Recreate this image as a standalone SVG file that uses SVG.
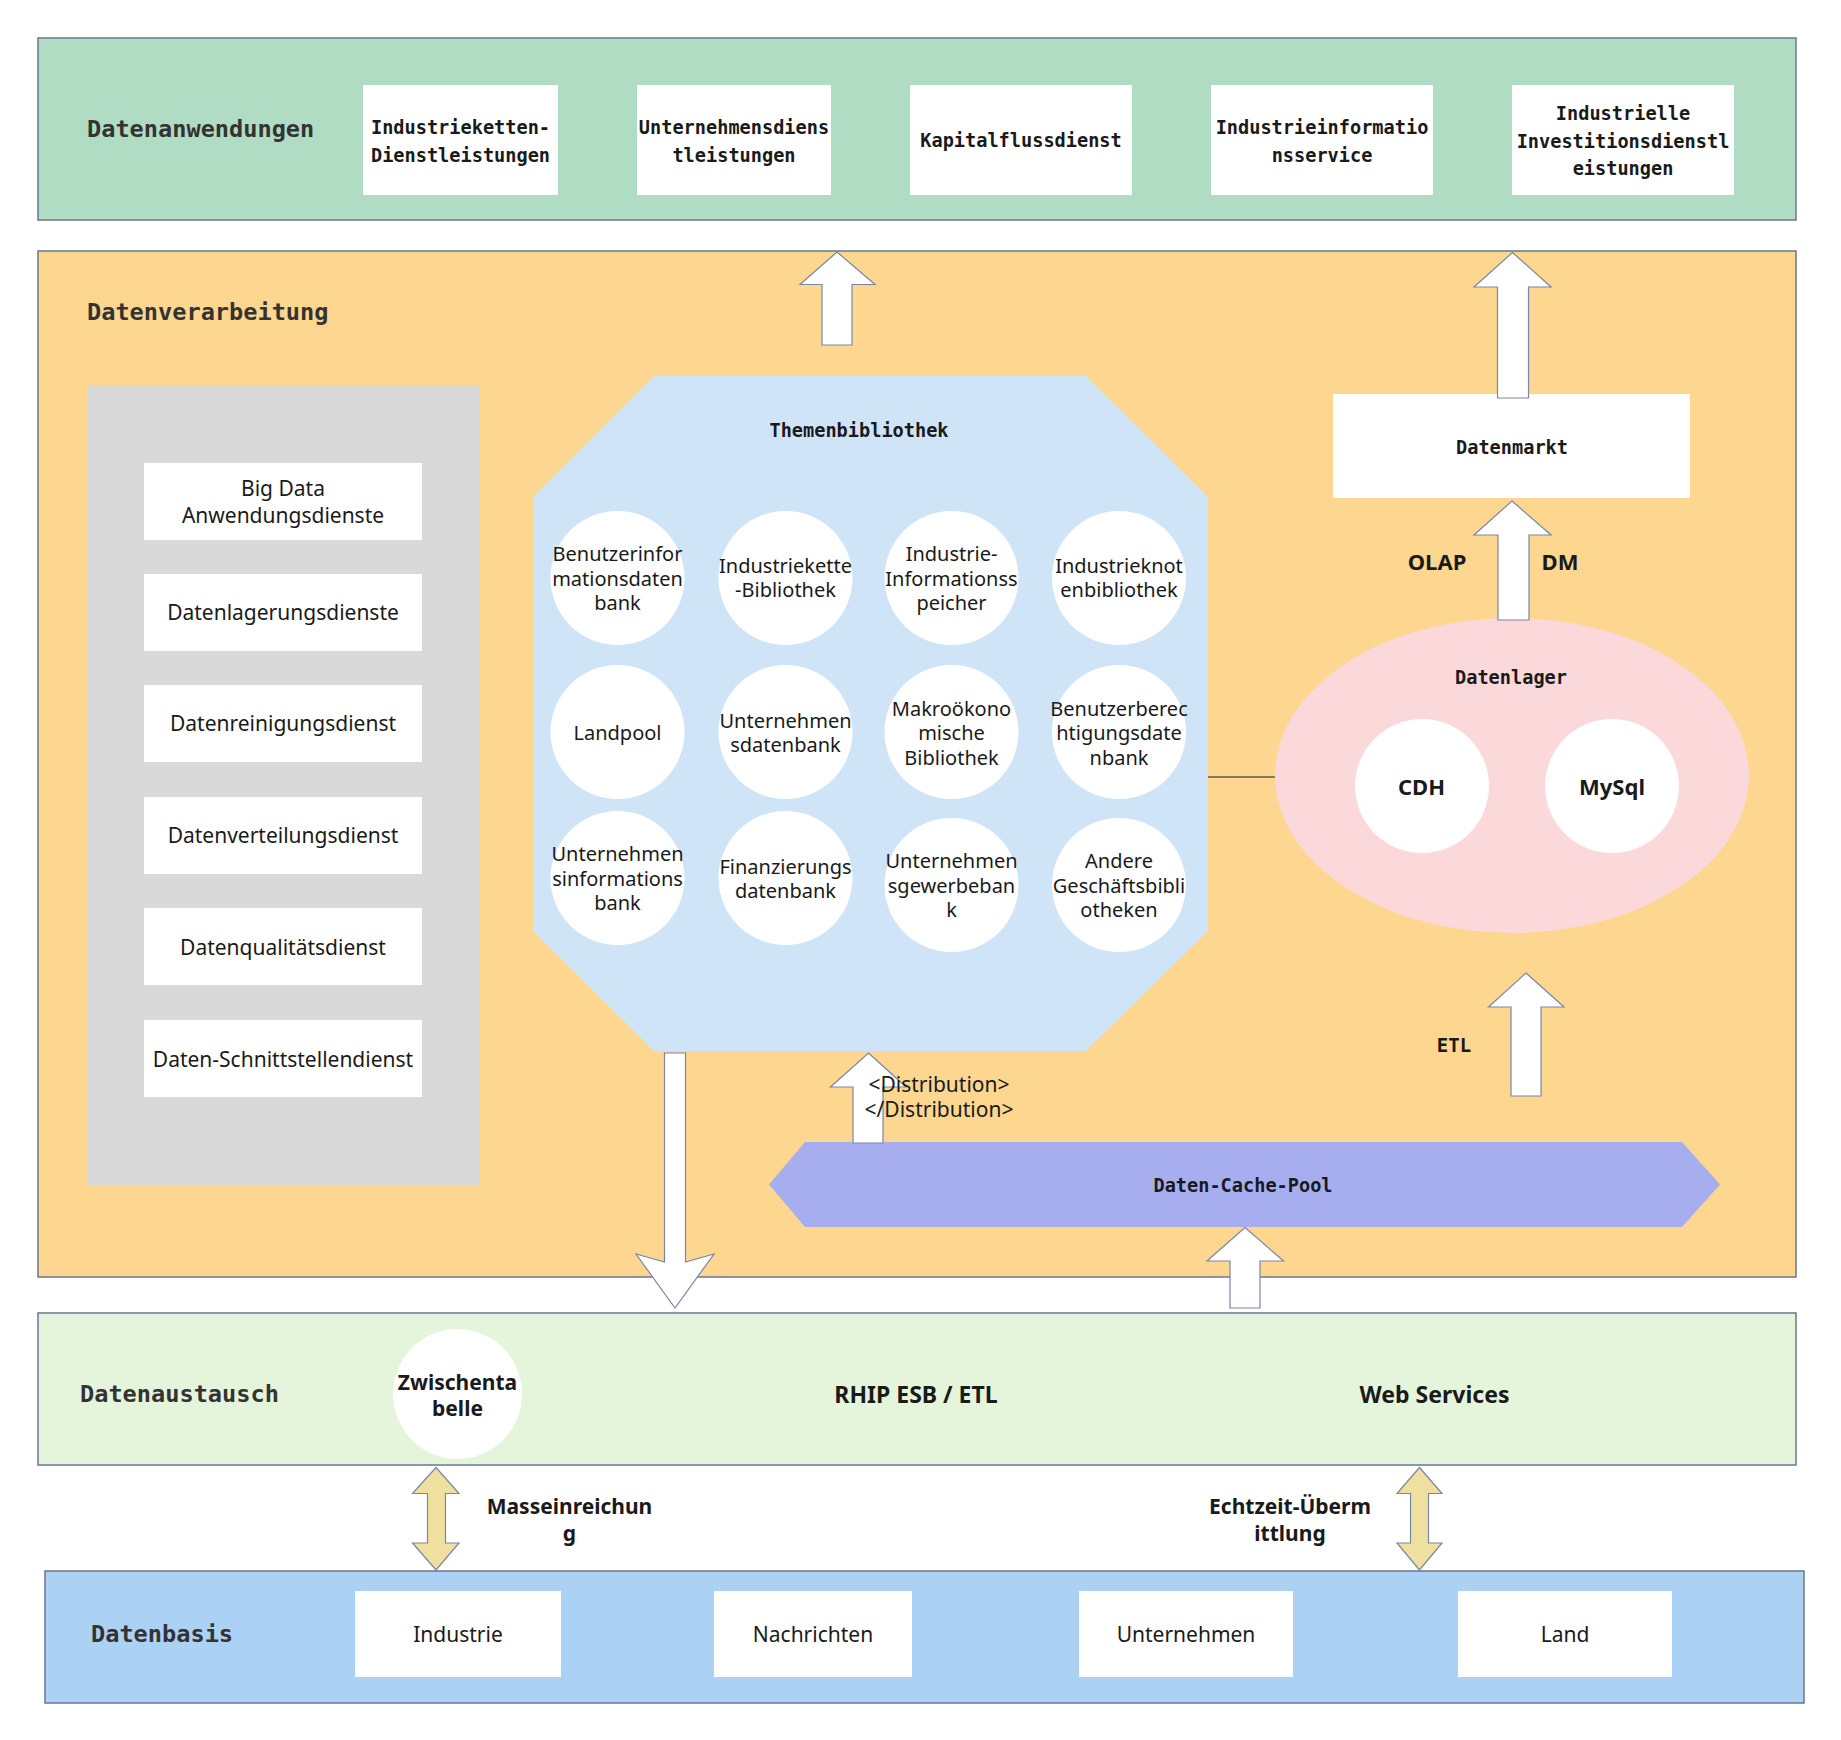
<svg xmlns="http://www.w3.org/2000/svg" width="1841" height="1740" viewBox="0 0 1841 1740">
<style>
.band{stroke:#6b7690;stroke-width:1.5}
.wbox{fill:#ffffff}
.circ{fill:#ffffff}
.arrow{fill:#ffffff;stroke:#7c86a3;stroke-width:1.2;stroke-linejoin:miter}
.darrow{fill:#efe0a0;stroke:#7c86a3;stroke-width:1.2}
.head{font-family:"DejaVu Sans Mono","Liberation Mono",monospace;font-weight:bold;font-size:23.6px;fill:#333333}
.mono{font-family:"DejaVu Sans Mono","Liberation Mono",monospace;font-weight:bold;font-size:18.6px;fill:#1a1a1a;text-anchor:middle;dominant-baseline:central}
.reg{font-family:"Noto Sans","Liberation Sans",sans-serif;font-size:21px;fill:#1a1a1a;text-anchor:middle;dominant-baseline:central}
.cir{font-family:"Noto Sans","Liberation Sans",sans-serif;font-size:20px;fill:#1a1a1a;text-anchor:middle;dominant-baseline:central}
.bold{font-family:"Noto Sans","Liberation Sans",sans-serif;font-weight:bold;font-size:21px;fill:#1a1a1a;text-anchor:middle;dominant-baseline:central}
</style>

<!-- Layer: Datenanwendungen -->
<g id="datenanwendungen">
<rect class="band" x="38" y="38" width="1758" height="182" fill="#b0dcc3"/>
<text class="head" x="87" y="137">Datenanwendungen</text>
</g>
<g id="app1"><rect class="wbox" x="363" y="85" width="195" height="110"/>
<text class="mono" x="460.5" y="127">Industrieketten-</text><text class="mono" x="460.5" y="155">Dienstleistungen</text></g>
<g id="app2"><rect class="wbox" x="637" y="85" width="194" height="110"/>
<text class="mono" x="734" y="127">Unternehmensdiens</text><text class="mono" x="734" y="155">tleistungen</text></g>
<g id="app3"><rect class="wbox" x="910" y="85" width="222" height="110"/>
<text class="mono" x="1021" y="140">Kapitalflussdienst</text></g>
<g id="app4"><rect class="wbox" x="1211" y="85" width="222" height="110"/>
<text class="mono" x="1322" y="127">Industrieinformatio</text><text class="mono" x="1322" y="155">nsservice</text></g>
<g id="app5"><rect class="wbox" x="1512" y="85" width="222" height="110"/>
<text class="mono" x="1623" y="113">Industrielle</text><text class="mono" x="1623" y="141">Investitionsdienstl</text><text class="mono" x="1623" y="168">eistungen</text></g>

<!-- Layer: Datenverarbeitung -->
<g id="datenverarbeitung">
<rect class="band" x="38" y="251" width="1758" height="1026" fill="#fdd690"/>
<text class="head" x="87" y="320">Datenverarbeitung</text>
</g>

<g id="dienste">
<rect x="88" y="385" width="392" height="801" fill="#d9d9d9"/>
<rect class="wbox" x="144" y="463" width="278" height="77"/>
<text class="reg" x="283" y="488">Big Data</text><text class="reg" x="283" y="515">Anwendungsdienste</text>
<rect class="wbox" x="144" y="574" width="278" height="77"/>
<text class="reg" x="283" y="612">Datenlagerungsdienste</text>
<rect class="wbox" x="144" y="685" width="278" height="77"/>
<text class="reg" x="283" y="723">Datenreinigungsdienst</text>
<rect class="wbox" x="144" y="797" width="278" height="77"/>
<text class="reg" x="283" y="835">Datenverteilungsdienst</text>
<rect class="wbox" x="144" y="908" width="278" height="77"/>
<text class="reg" x="283" y="947">Datenqualitätsdienst</text>
<rect class="wbox" x="144" y="1020" width="278" height="77"/>
<text class="reg" x="283" y="1059">Daten-Schnittstellendienst</text>
</g>

<g id="themenbibliothek">
<polygon points="654,376 1086,376 1208,497 1208,931 1086,1051 654,1051 533,931 533,497" fill="#d0e4f8"/>
<text class="mono" x="859" y="430">Themenbibliothek</text>
</g>
<g id="lib-r1">
<circle class="circ" cx="617.5" cy="578" r="67"/>
<text class="cir" x="617.5" y="553.5">Benutzerinfor</text><text class="cir" x="617.5" y="578">mationsdaten</text><text class="cir" x="617.5" y="602.5">bank</text>
<circle class="circ" cx="785.5" cy="578" r="67"/>
<text class="cir" x="785.5" y="565">Industriekette</text><text class="cir" x="785.5" y="589.5">-Bibliothek</text>
<circle class="circ" cx="951.5" cy="578" r="67"/>
<text class="cir" x="951.5" y="553.5">Industrie-</text><text class="cir" x="951.5" y="578">Informationss</text><text class="cir" x="951.5" y="602.5">peicher</text>
<circle class="circ" cx="1119" cy="578" r="67"/>
<text class="cir" x="1119" y="565">Industrieknot</text><text class="cir" x="1119" y="589.5">enbibliothek</text>
</g>
<g id="lib-r2">
<circle class="circ" cx="617.5" cy="732" r="67"/>
<text class="cir" x="617.5" y="732.5">Landpool</text>
<circle class="circ" cx="785.5" cy="732" r="67"/>
<text class="cir" x="785.5" y="720">Unternehmen</text><text class="cir" x="785.5" y="744.5">sdatenbank</text>
<circle class="circ" cx="951.5" cy="732" r="67"/>
<text class="cir" x="951.5" y="708">Makroökono</text><text class="cir" x="951.5" y="732.5">mische</text><text class="cir" x="951.5" y="757">Bibliothek</text>
<circle class="circ" cx="1119" cy="732" r="67"/>
<text class="cir" x="1119" y="708">Benutzerberec</text><text class="cir" x="1119" y="732.5">htigungsdate</text><text class="cir" x="1119" y="757">nbank</text>
</g>
<g id="lib-r3">
<circle class="circ" cx="617.5" cy="878" r="67"/>
<text class="cir" x="617.5" y="853.5">Unternehmen</text><text class="cir" x="617.5" y="878">sinformations</text><text class="cir" x="617.5" y="902.5">bank</text>
<circle class="circ" cx="785.5" cy="878" r="67"/>
<text class="cir" x="785.5" y="866">Finanzierungs</text><text class="cir" x="785.5" y="890.5">datenbank</text>
<circle class="circ" cx="951.5" cy="885" r="67"/>
<text class="cir" x="951.5" y="860.5">Unternehmen</text><text class="cir" x="951.5" y="885">sgewerbeban</text><text class="cir" x="951.5" y="909.5">k</text>
<circle class="circ" cx="1119" cy="885" r="67"/>
<text class="cir" x="1119" y="860.5">Andere</text><text class="cir" x="1119" y="885">Geschäftsbibli</text><text class="cir" x="1119" y="909.5">otheken</text>
</g>

<g id="datenmarkt">
<rect class="wbox" x="1333" y="394" width="357" height="104"/>
<text class="mono" x="1512" y="447">Datenmarkt</text>
</g>

<g id="datenlager">
<ellipse cx="1512" cy="775.5" rx="237" ry="157.5" fill="#fbd8da"/>
<text class="mono" x="1511" y="677">Datenlager</text>
<circle class="circ" cx="1422" cy="786" r="67"/>
<text class="bold" x="1421.5" y="786" style="font-size:22px">CDH</text>
<circle class="circ" cx="1612" cy="786" r="67"/>
<text class="bold" x="1612" y="786" style="font-size:22px">MySql</text>
</g>

<g id="cachepool">
<polygon points="805,1142 1682,1142 1720,1184.5 1682,1227 805,1227 769,1184.5" fill="#a6aef0"/>
<text class="mono" x="1243" y="1185">Daten-Cache-Pool</text>
</g>

<!-- Layer: Datenaustausch -->
<g id="datenaustausch">
<rect class="band" x="38" y="1313" width="1758" height="152" fill="#e5f5db"/>
<text class="head" x="80" y="1402">Datenaustausch</text>
<text class="bold" x="916" y="1394" style="font-size:23px">RHIP ESB / ETL</text>
<text class="bold" x="1434.5" y="1394" style="font-size:23px">Web Services</text>
</g>
<g id="zwischentabelle">
<ellipse class="circ" cx="457.5" cy="1394" rx="64.5" ry="65"/>
<text class="bold" x="457.5" y="1381.5">Zwischenta</text><text class="bold" x="457.5" y="1407.5">belle</text>
</g>

<!-- Layer: Datenbasis -->
<g id="datenbasis">
<rect class="band" x="45" y="1571" width="1759" height="132" fill="#abd1f5"/>
<text class="head" x="91" y="1642">Datenbasis</text>
</g>
<g id="src1"><rect class="wbox" x="355" y="1591" width="206" height="86"/><text class="reg" x="458" y="1634">Industrie</text></g>
<g id="src2"><rect class="wbox" x="714" y="1591" width="198" height="86"/><text class="reg" x="813" y="1634">Nachrichten</text></g>
<g id="src3"><rect class="wbox" x="1079" y="1591" width="214" height="86"/><text class="reg" x="1186" y="1634">Unternehmen</text></g>
<g id="src4"><rect class="wbox" x="1458" y="1591" width="214" height="86"/><text class="reg" x="1565" y="1634">Land</text></g>

<!-- Connectors -->
<g id="connectors">
<line x1="1208" y1="777" x2="1275" y2="777" stroke="#1a1a1a" stroke-width="1.2"/>
<polygon class="arrow" points="837,252 875,284.5 852,284.5 852,345 822,345 822,284.5 800,284.5"/>
<polygon class="arrow" points="1512.5,252.5 1551,287 1528.5,287 1528.5,398 1497.5,398 1497.5,287 1474,287"/>
<polygon class="arrow" points="1512,501 1551,535 1529,535 1529,620 1498,620 1498,535 1474,535"/>
<polygon class="arrow" points="1526,973 1564,1007 1541,1007 1541,1096 1511,1096 1511,1007 1488.5,1007"/>
<polygon class="arrow" points="868.5,1053 906,1087 883,1087 883,1143 853,1143 853,1087 830.5,1087"/>
<polygon class="arrow" points="664.5,1053 685.5,1053 685.5,1262 714,1254 675,1308 636,1254 664.5,1262"/>
<polygon class="arrow" points="1245,1227.5 1283.5,1261 1260,1261 1260,1308 1230,1308 1230,1261 1207,1261"/>
<polygon class="darrow" points="436,1467.5 459,1493.5 445.5,1493.5 445.5,1543 459,1543 436,1570 412.5,1543 427.5,1543 427.5,1493.5 412.5,1493.5"/>
<polygon class="darrow" points="1419.5,1467.5 1442,1493.5 1428.5,1493.5 1428.5,1543 1442,1543 1419.5,1570 1397,1543 1410.5,1543 1410.5,1493.5 1397,1493.5"/>
<text class="bold" x="1437" y="561" style="font-size:22px">OLAP</text>
<text class="bold" x="1560" y="561" style="font-size:22px">DM</text>
<text class="mono" x="1454" y="1045" style="font-size:19px">ETL</text>
<text class="reg" x="939" y="1083.5">&lt;Distribution&gt;</text>
<text class="reg" x="939" y="1109">&lt;/Distribution&gt;</text>
<text class="bold" x="569.5" y="1506">Masseinreichun</text>
<text class="bold" x="569.5" y="1532.5">g</text>
<text class="bold" x="1290" y="1506">Echtzeit-Überm</text>
<text class="bold" x="1290" y="1532.5">ittlung</text>
</g>
</svg>
